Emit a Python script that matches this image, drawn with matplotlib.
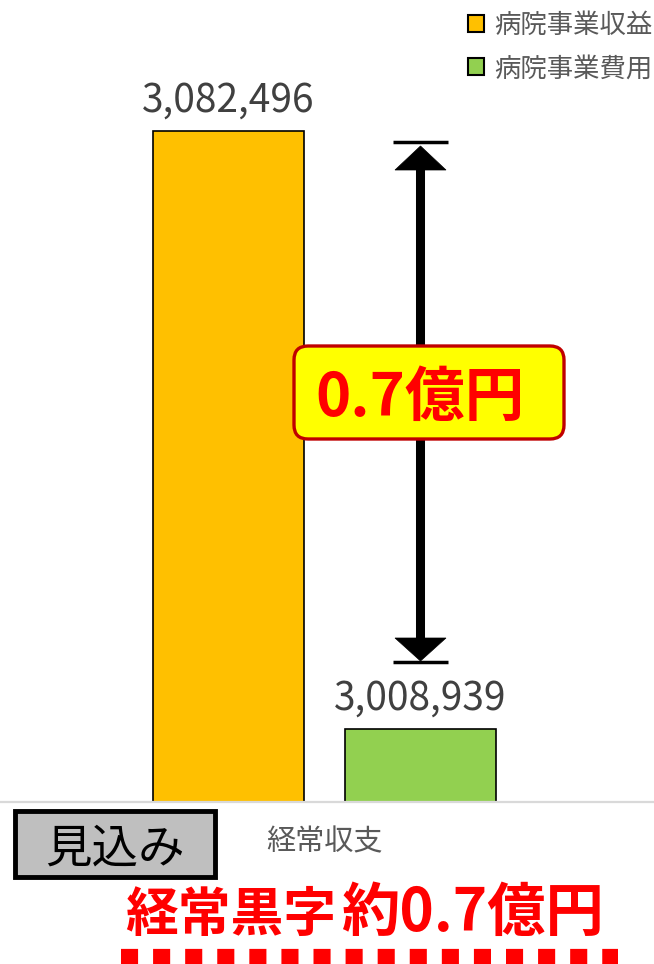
import matplotlib
matplotlib.use("Agg")
import matplotlib.pyplot as plt
from matplotlib.patches import Rectangle, FancyBboxPatch, Polygon
from matplotlib.lines import Line2D
from matplotlib.transforms import IdentityTransform

plt.rcParams['font.family'] = ['Noto Sans CJK JP', 'DejaVu Sans']
plt.rcParams['lines.scale_dashes'] = False

# ---- data ----
categories = ['経常収支']
series_names = ['病院事業収益', '病院事業費用']
series_values = [3082496, 3008939]
series_colors = ['#FFC000', '#92D050']
difference_label = '0.7億円'
badge_text = '見込み'
headline_main = '経常黒字'
headline_value = '約0.7億円'

W, H, DPI = 654, 964, 100
fig = plt.figure(figsize=(W / DPI, H / DPI), dpi=DPI)
PIX = IdentityTransform()


def P(x, y):
    """Pixel position measured from the top-left corner."""
    return (x, H - y)


base_px = 802
ax = fig.add_axes([0, 1 - base_px / H, 1, base_px / H])

bar_w = 0.4
offsets = [-0.254, 0.254]
x0 = 0
for name, val, col, off in zip(series_names, series_values, series_colors, offsets):
    ax.bar(x0 + off, val, width=bar_w, color=col, edgecolor='black',
           linewidth=1.2, label=name, zorder=2)
    ax.annotate(f'{val:,}', xy=(x0 + off, val), xytext=(0, 14),
                textcoords='offset points', ha='center', va='baseline',
                fontsize=28, color='#404040')

ax.set_ylim(3_000_000, 3_098_600)
ax.set_xlim(-0.8596, 0.8728)
ax.set_yticks([])
ax.set_xticks([x0])
ax.set_xticklabels(categories, fontsize=21, color='#595959')
ax.tick_params(axis='x', length=0, pad=18)
for s in ['top', 'left', 'right']:
    ax.spines[s].set_visible(False)
ax.spines['bottom'].set_color('#D9D9D9')
ax.spines['bottom'].set_linewidth(1.6)
ax.spines['bottom'].set_zorder(3)

handles = [Rectangle((0, 0), 1, 1, facecolor=c, edgecolor='black', linewidth=1.5)
           for c in series_colors]
ax.legend(handles, series_names, loc='upper right',
          bbox_to_anchor=(1.016, 1.0), bbox_transform=fig.transFigure,
          frameon=False, fontsize=19, labelcolor='#595959',
          handlelength=0.62, handleheight=0.62, handletextpad=0.38,
          labelspacing=0.62, borderaxespad=0.0, borderpad=0.45)

# ---- difference arrow ----
ax_x = 420
fig.add_artist(Line2D([ax_x, ax_x], [H - 165, H - 643], transform=PIX,
                      color='black', linewidth=6.5, solid_capstyle='butt',
                      zorder=4))
fig.add_artist(Polygon([P(395, 170), P(446, 170), P(420.5, 146)], closed=True,
                       transform=PIX, facecolor='black', edgecolor='black',
                       lw=0.5, zorder=4))
fig.add_artist(Polygon([P(395, 638), P(446, 638), P(420.5, 661)], closed=True,
                       transform=PIX, facecolor='black', edgecolor='black',
                       lw=0.5, zorder=4))
for yy in (142, 662):
    fig.add_artist(Line2D([393, 448], [H - yy, H - yy], transform=PIX,
                          color='black', linewidth=2.5, solid_capstyle='butt',
                          zorder=4))

# ---- difference badge ----
bx0, by0, bx1, by1 = 294, 346, 564, 439
fig.add_artist(FancyBboxPatch(P(bx0, by1), bx1 - bx0, by1 - by0,
                              boxstyle='round,pad=0,rounding_size=14',
                              transform=PIX, facecolor='#FFFF00',
                              edgecolor='#C00000', linewidth=2.4, zorder=5))
fig.text(420, H - 416, difference_label, transform=PIX, ha='center',
         va='baseline', fontsize=43, fontweight='bold', color='#FF0000',
         zorder=6)

# ---- forecast badge ----
fig.add_artist(Rectangle(P(15, 877), 200, 66, transform=PIX,
                         facecolor='#BFBFBF', edgecolor='black', linewidth=3.5))
fig.text(115, H - 862, badge_text, transform=PIX, ha='center', va='baseline',
         fontsize=33.5, color='black')

# ---- headline ----
fig.text(125, H - 931, headline_main, transform=PIX, ha='left', va='baseline',
         fontsize=38, fontweight='bold', color='#FF0000')
fig.text(341, H - 931, headline_value, transform=PIX, ha='left', va='baseline',
         fontsize=42, fontweight='bold', color='#FF0000')

fig.add_artist(Line2D([121, 618], [H - 960, H - 960], transform=PIX,
                      color='#FF0000', linewidth=16, dashes=(12.3, 10.8),
                      dash_capstyle='butt'))

fig.savefig('out.png', dpi=DPI)
